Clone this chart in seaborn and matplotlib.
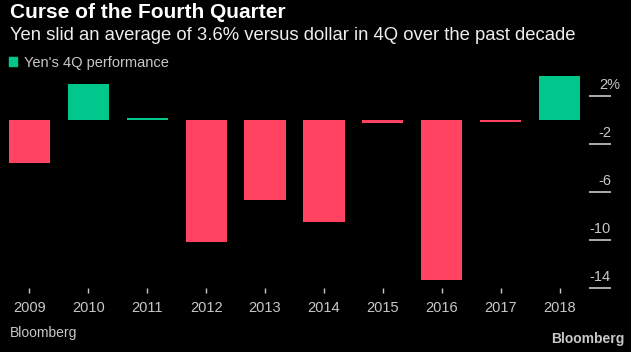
import matplotlib
matplotlib.use("Agg")
import matplotlib.pyplot as plt
import matplotlib.transforms as mtransforms
from matplotlib.patches import Patch
import seaborn as sns
import pandas as pd

# ---------- data ----------
years = ["2009", "2010", "2011", "2012", "2013", "2014", "2015", "2016", "2017", "2018"]
perf = [-3.56, 2.98, 0.14, -10.16, -6.65, -8.49, -0.25, -13.34, -0.17, 3.67]
ytick_vals = [2, -2, -6, -10, -14]
ytick_text = ["2%", "-2", "-6", "-10", "-14"]

GREEN, RED = "#00C88C", "#FF4360"
GREY = "#C8C8C8"

df = pd.DataFrame({"year": years, "perf": perf})
df["sign"] = ["up" if v >= 0 else "down" for v in perf]

sns.set_style("dark")
plt.rcParams["font.family"] = ["Liberation Sans", "DejaVu Sans"]

W, H = 631, 352
fig = plt.figure(figsize=(W / 100, H / 100), dpi=100, facecolor="black")
ax = fig.add_axes([0 / W, 1 - 288 / H, 589 / W, (288 - 73) / H])
ax.set_facecolor("black")

sns.barplot(data=df, x="year", y="perf", hue="sign", dodge=False,
            palette={"up": GREEN, "down": RED}, width=0.7, legend=False,
            saturation=1, linewidth=0, ax=ax)

ax.set_ylim(-14.03, 3.93)
ax.set_xlim(-0.5, 9.5)
ax.set_xlabel("")
ax.set_ylabel("")
ax.grid(False)
for s in ax.spines.values():
    s.set_visible(False)

# x ticks: short marks below the axes
ax.tick_params(axis="x", bottom=True, direction="out", length=3.6, width=1,
               color=GREY, pad=6, labelsize=10.5, labelcolor=GREY)

# y ticks: horizontal rules on the right, labels sit above them
ax.yaxis.tick_right()
ax.set_yticks(ytick_vals)
ax.tick_params(axis="y", right=True, left=False, direction="out", length=15.8,
               width=1.2, color=GREY, labelright=False, labelleft=False)
trans = mtransforms.blended_transform_factory(fig.transFigure, ax.transData)
up = mtransforms.offset_copy(trans, fig=fig, x=0, y=7, units="dots")
for v, t in zip(ytick_vals, ytick_text):
    xr = 620 if t.endswith("%") else 611
    ax.text(xr / W, v, t, transform=up, ha="right", va="baseline",
            fontsize=10.5, color=GREY, clip_on=False)

# titles
fig.text(10 / W, 1 - 13 / H, "Curse of the Fourth Quarter", fontsize=15,
         fontweight="bold", color="white", va="center", ha="left")
fig.text(10 / W, 1 - 35 / H,
         "Yen slid an average of 3.6% versus dollar in 4Q over the past decade",
         fontsize=13.3, color="#EEEEEE", va="center", ha="left")

# legend
fig.legend(handles=[Patch(color=GREEN, label="Yen's 4Q performance")],
           loc="upper left", bbox_to_anchor=(9 / W, 1 - 56 / H),
           frameon=False, fontsize=10.5, labelcolor=GREY,
           handlelength=0.55, handleheight=0.55, handletextpad=0.5,
           borderpad=0, borderaxespad=0)

# footer
fig.text(10 / W, 1 - 333 / H, "Bloomberg", fontsize=10, color=GREY,
         va="center", ha="left")
fig.text(625 / W, 1 - 339 / H, "Bloomberg", fontsize=10, fontweight="bold",
         color=GREY, va="center", ha="right")

fig.savefig("out.png", dpi=100, facecolor="black")
